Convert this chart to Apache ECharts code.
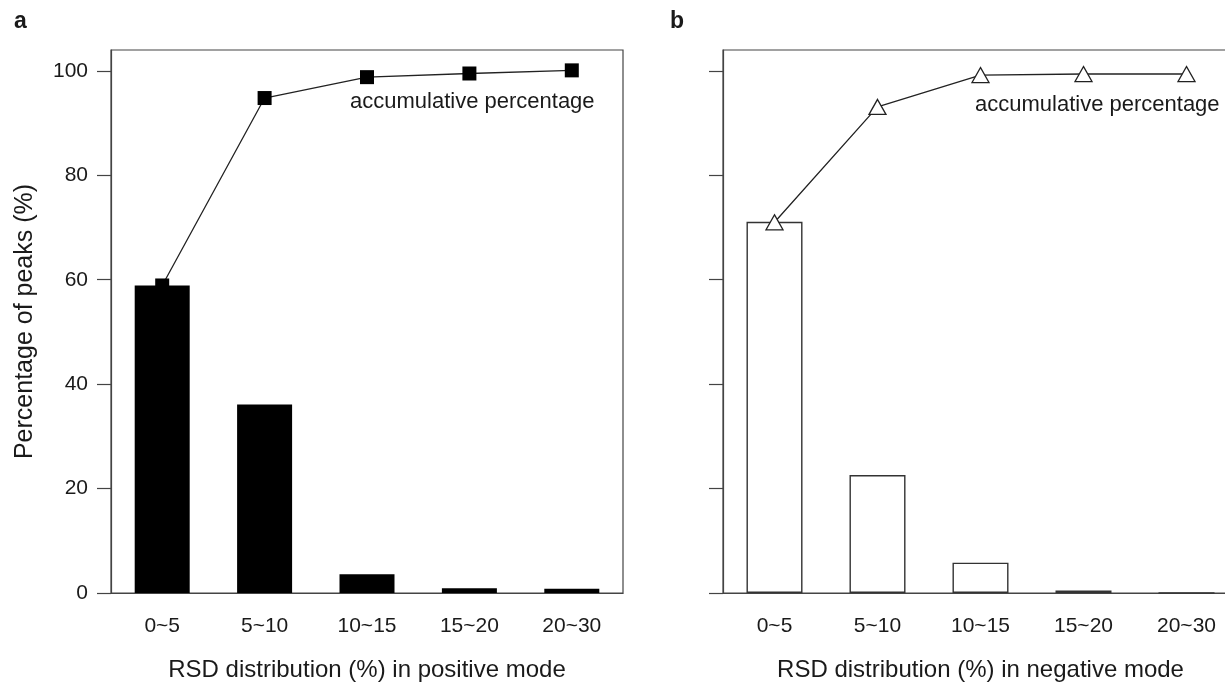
<!DOCTYPE html>
<html>
<head>
<meta charset="utf-8">
<script src="https://cdn.jsdelivr.net/npm/echarts@6/dist/echarts.min.js"></script>
<style>
  html, body { margin: 0; padding: 0; background: #fff; overflow: hidden; }
  #main { width: 1225px; height: 682px; }
</style>
</head>
<body>
<div id="main"></div>
<script>
// categories (RSD ranges)
var categories = ['0~5', '5~10', '10~15', '15~20', '20~30'];
// positive mode
var posBars = [58.9, 36.1, 3.6, 0.9, 0.8];
var posCumulative = [58.9, 94.8, 98.8, 99.5, 100.1];
// negative mode
var negBars = [71.1, 22.6, 5.8, 0.5, 0];
var negCumulative = [71.0, 93.1, 99.2, 99.4, 99.4];
var yTicks = [0, 20, 40, 60, 80, 100];

var font = 'Liberation Sans, Arial, sans-serif';
var ink = '#1a1a1a';

var chart = echarts.init(document.getElementById('main'));

function xAxisFor(idx, title) {
  return {
    type: 'category',
    gridIndex: idx,
    data: categories,
    axisLine: { lineStyle: { color: '#444', width: 1.2 } },
    axisTick: { show: false },
    axisLabel: { color: ink, fontSize: 21, fontFamily: font, margin: 23 },
    name: title,
    nameLocation: 'middle',
    nameGap: 65,
    nameTextStyle: { color: ink, fontSize: 24, fontFamily: font }
  };
}

function yAxisFor(idx, showLabels) {
  return {
    type: 'value',
    gridIndex: idx,
    min: 0,
    max: 104,
    interval: 20,
    splitLine: { show: false },
    axisLine: { show: true, lineStyle: { color: '#444', width: 1.2 } },
    axisTick: { show: true, length: 14, customValues: yTicks, lineStyle: { color: '#444', width: 1.2 } },
    axisLabel: {
      show: showLabels, customValues: yTicks,
      color: ink, fontSize: 21, fontFamily: font, margin: 23
    },
    name: showLabels ? 'Percentage of peaks (%)' : '',
    nameLocation: 'middle',
    nameGap: 73,
    nameTextStyle: { color: ink, fontSize: 25, fontFamily: font }
  };
}

var option = {
  backgroundColor: '#fff',
  animation: false,
  grid: [
    { left: 111, top: 50, width: 512, height: 543, outerBoundsMode: 'none',
      show: true, borderColor: '#444', borderWidth: 1.2 },
    // panel b runs past the right edge of the picture, as in the original figure
    { left: 723, top: 50, width: 515, height: 543, outerBoundsMode: 'none',
      show: true, borderColor: '#444', borderWidth: 1.2 }
  ],
  xAxis: [
    xAxisFor(0, 'RSD distribution (%) in positive mode'),
    xAxisFor(1, 'RSD distribution (%) in negative mode')
  ],
  yAxis: [yAxisFor(0, true), yAxisFor(1, false)],
  graphic: [
    { type: 'text', left: 14, top: 10, style: { text: 'a', font: 'bold 23px ' + font, fill: ink } },
    { type: 'text', left: 670, top: 10, style: { text: 'b', font: 'bold 23px ' + font, fill: ink } },
    { type: 'text', left: 350, top: 91, style: { text: 'accumulative percentage', font: '22px ' + font, fill: ink } },
    { type: 'text', left: 975, top: 94, style: { text: 'accumulative percentage', font: '22px ' + font, fill: ink } }
  ],
  series: [
    {
      type: 'bar', xAxisIndex: 0, yAxisIndex: 0, data: posBars,
      barWidth: 55,
      itemStyle: { color: '#000' }
    },
    {
      type: 'line', xAxisIndex: 0, yAxisIndex: 0, data: posCumulative,
      symbol: 'rect', symbolSize: 14, z: 5,
      lineStyle: { color: '#222', width: 1.3 },
      itemStyle: { color: '#000', borderWidth: 0 }
    },
    {
      type: 'bar', xAxisIndex: 1, yAxisIndex: 1, data: negBars,
      barWidth: 56,
      itemStyle: { color: '#fff', borderColor: '#333', borderWidth: 1.4 }
    },
    {
      type: 'line', xAxisIndex: 1, yAxisIndex: 1, data: negCumulative,
      symbol: 'triangle', symbolSize: [17, 15], z: 5,
      lineStyle: { color: '#222', width: 1.3 },
      itemStyle: { color: '#fff', borderColor: '#222', borderWidth: 1.3 }
    }
  ]
};

chart.setOption(option);
</script>
</body>
</html>
